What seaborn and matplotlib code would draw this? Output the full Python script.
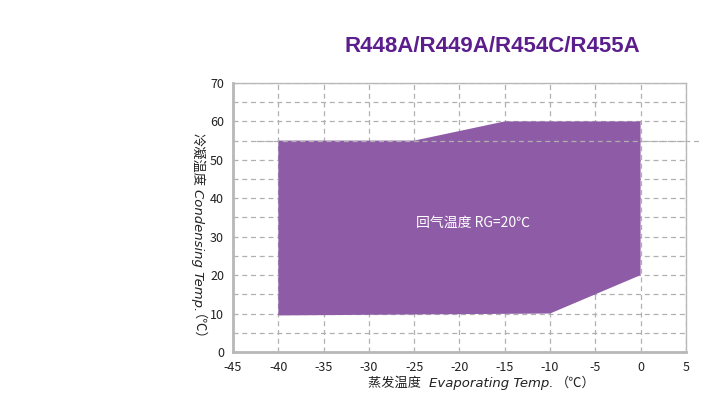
import numpy as np
import seaborn as sns
import matplotlib.pyplot as plt
from matplotlib.ticker import MultipleLocator

# envelope polygon (evaporating temp, condensing temp)
evap = [-40, -25, -15, 0, 0, -10, -40]
cond = [55, 55, 60, 60, 20, 10, 9.5]

x_ticks = list(range(-45, 10, 5))
y_ticks = list(range(0, 80, 10))

title = "R448A/R449A/R454C/R455A"
note = "回气温度 RG=20℃"
xlabel_parts = [("蒸发温度  ", "normal"), ("Evaporating Temp.", "italic"), ("（℃）", "normal")]
ylabel_parts = [("冷凝温度", "normal"), ("Condensing Temp.", "italic"), ("（℃）", "normal")]

sns.set_style("white")
plt.rcParams['font.family'] = ['Noto Sans CJK SC', 'DejaVu Sans']
plt.rcParams['axes.unicode_minus'] = False

fig = plt.figure(figsize=(7.02, 4.17), dpi=100)
ax = fig.add_axes([0.332, 0.156, 0.645, 0.645])

ax.fill(evap, cond, color="#8e5ba6", lw=0, zorder=1)

ax.set_xlim(-45, 5)
ax.set_ylim(0, 70)
ax.set_xticks(x_ticks)
ax.set_yticks(y_ticks)
ax.yaxis.set_minor_locator(MultipleLocator(5))
ax.grid(True, which="both", color="#b0b0b0", ls=(0, (4, 3)), lw=0.9, zorder=2)
for s in ax.spines.values():
    s.set_color("#b8b8b8")
    s.set_linewidth(1.0)
ax.spines["left"].set_linewidth(2)
ax.spines["bottom"].set_linewidth(2)
ax.tick_params(axis="both", labelsize=9, colors="#222222", length=3, width=0.8)
ax.tick_params(axis="both", which="both", color="#b8b8b8")
ax.tick_params(axis="y", which="minor", length=3)

# stray dashed line at 55 past the axes
ax.plot([-42.5, 6.5], [55, 55], color="#b0b0b0", ls=(0, (4, 3)), lw=0.9, clip_on=False, zorder=2)

ax.text(-18.5, 33.5, note, color="white", fontsize=10, ha="center", va="center", zorder=3)

fig.text(0.702, 0.888, title, color="#5b1e8c", fontsize=16, fontweight="bold",
         family="Liberation Sans", ha="center", va="center")

fig.canvas.draw()
r = fig.canvas.get_renderer()

# x label: pieces chained left to right
px = 368
for s, st in xlabel_parts:
    kw = dict(style="italic", family="DejaVu Sans") if st == "italic" else {}
    t = fig.text(px / 702, 1 - 383 / 417, s, fontsize=9.5, color="#222222", va="center", **kw)
    px = t.get_window_extent(r).x1 + 2

# y label: pieces chained top to bottom, rotated to read downward
py = 417 - 133
for s, st in ylabel_parts:
    kw = dict(style="italic", family="DejaVu Sans") if st == "italic" else {}
    xx = 197 if st == "italic" or s.startswith("冷") else 191
    t = fig.text(xx / 702, py / 417, s, fontsize=9.5, color="#222222", rotation=-90,
                 ha="center", va="top", **kw)
    py = t.get_window_extent(r).y0 - 3

fig.savefig("out.png", dpi=100)
